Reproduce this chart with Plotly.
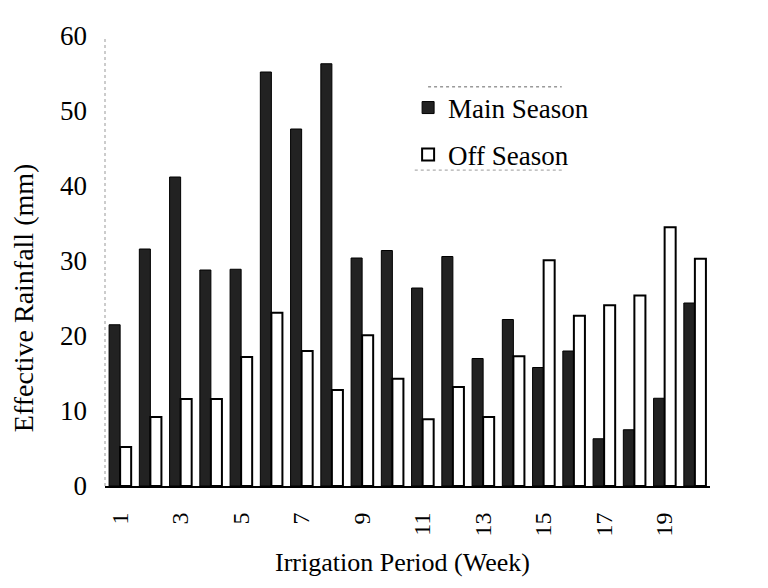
import plotly.graph_objects as go

weeks = list(range(1, 21))
main_season = [21.5, 31.6, 41.2, 28.8, 28.9, 55.2, 47.6, 56.3, 30.4, 31.4,
               26.4, 30.6, 17.0, 22.2, 15.8, 18.0, 6.3, 7.5, 11.7, 24.4]
off_season = [5.2, 9.2, 11.6, 11.6, 17.2, 23.1, 18.0, 12.8, 20.1, 14.3,
              8.9, 13.2, 9.2, 17.3, 30.1, 22.7, 24.1, 25.4, 34.5, 30.3]
tick_weeks = [1, 3, 5, 7, 9, 11, 13, 15, 17, 19]
y_ticks = [0, 10, 20, 30, 40, 50, 60]

FONT = "Liberation Serif, Times New Roman, serif"

fig = go.Figure()
fig.add_bar(x=weeks, y=main_season, name="Main Season", showlegend=True,
            marker=dict(color="#222222", line=dict(color="black", width=1)),
            legend="legend")
fig.add_bar(x=weeks, y=off_season, name="Off Season", showlegend=True,
            marker=dict(color="white", line=dict(color="black", width=2)),
            legend="legend2")

fig.update_layout(
    width=768, height=588,
    showlegend=True,
    margin=dict(l=97, r=66, t=28, b=110),
    paper_bgcolor="white", plot_bgcolor="white",
    font=dict(family=FONT, color="black", size=26),
    barmode="group", bargap=0.27, bargroupgap=0,
    xaxis=dict(range=[0.5, 20.5], tickvals=tick_weeks,
               ticktext=[str(t) for t in tick_weeks], tickangle=-90,
               showgrid=False, zeroline=False, showline=True,
               linecolor="black", linewidth=2, ticks="", ticklabelstandoff=15,
               tickfont=dict(family=FONT, size=24)),
    yaxis=dict(range=[0, 60], tickvals=y_ticks, showgrid=False, zeroline=False,
               showline=False, ticks="", ticklabelstandoff=17,
               tickfont=dict(family=FONT, size=27)),
    legend=dict(x=0.501, y=0.84, xanchor="left", yanchor="middle", visible=True,
                bgcolor="rgba(0,0,0,0)", font=dict(family=FONT, size=27)),
    legend2=dict(x=0.501, y=0.7356, xanchor="left", yanchor="middle", visible=True,
                 bgcolor="rgba(0,0,0,0)", font=dict(family=FONT, size=27)),
    annotations=[
        dict(text="Irrigation Period (Week)", xref="paper", yref="paper",
             x=0.491, y=-0.169, showarrow=False, xanchor="center", yanchor="middle",
             font=dict(family=FONT, size=26)),
        dict(text="Effective Rainfall (mm)", xref="paper", yref="paper",
             x=-0.1335, y=0.418, showarrow=False, textangle=-90,
             xanchor="center", yanchor="middle",
             font=dict(family=FONT, size=28)),
    ],
    shapes=[
        dict(type="line", xref="paper", yref="paper", x0=0, x1=0, y0=0, y1=1,
             line=dict(color="#999999", width=1, dash="dot")),
        dict(type="line", xref="paper", yref="paper", x0=0.534, x1=0.755,
             y0=0.887, y1=0.887, line=dict(color="#666666", width=1, dash="dot")),
        dict(type="line", xref="paper", yref="paper", x0=0.512, x1=0.755,
             y0=0.702, y1=0.702, line=dict(color="#999999", width=1, dash="dot")),
    ],
)

fig.write_html("out.html")
